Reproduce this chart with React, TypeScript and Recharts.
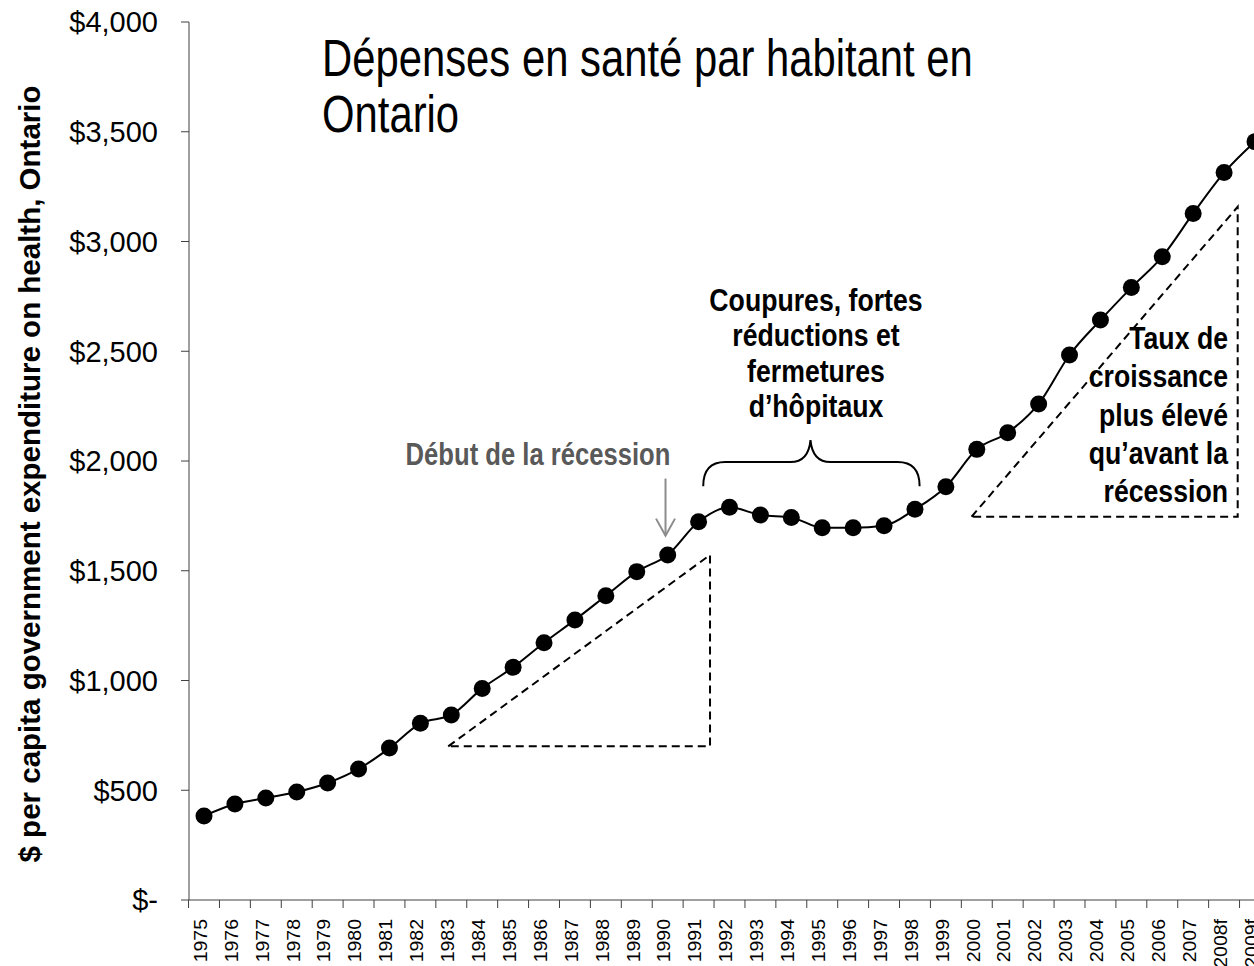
import { LineChart, Line, XAxis, YAxis } from 'recharts'

const years = [
  '1975', '1976', '1977', '1978', '1979', '1980', '1981', '1982', '1983', '1984',
  '1985', '1986', '1987', '1988', '1989', '1990', '1991', '1992', '1993', '1994',
  '1995', '1996', '1997', '1998', '1999', '2000', '2001', '2002', '2003', '2004',
  '2005', '2006', '2007', '2008f', '2009f',
]

const spending = [
  383, 437, 465, 492, 533, 597, 692, 805, 843, 964,
  1060, 1172, 1276, 1386, 1496, 1572, 1723, 1789, 1754, 1743,
  1696, 1696, 1705, 1780, 1883, 2053, 2129, 2260, 2483, 2642,
  2790, 2931, 3128, 3314, 3455,
]

const yTicks = [0, 500, 1000, 1500, 2000, 2500, 3000, 3500, 4000]

const titleLines = ['Dépenses en santé par habitant en', 'Ontario']
const recessionLines = ['Début de la récession']
const cutsLines = ['Coupures, fortes', 'réductions et', 'fermetures', 'd’hôpitaux']
const growthLines = ['Taux de', 'croissance', 'plus élevé', 'qu’avant la', 'récession']

const data = years.map((year, i) => ({ year, value: spending[i] }))

// chart geometry (the overlay uses the same numbers as the chart)
const W = 1290
const H = 966
const MARGIN = { top: 22, right: 20, bottom: 0, left: 0 }
const Y_AXIS_W = 189
const X_AXIS_H = 66
const X_PAD = 15
const Y_MAX = 4000
const PLOT_LEFT = MARGIN.left + Y_AXIS_W
const PLOT_W = W - MARGIN.left - MARGIN.right - Y_AXIS_W
const PLOT_H = H - MARGIN.top - MARGIN.bottom - X_AXIS_H
const BAND = (PLOT_W - 2 * X_PAD) / (years.length - 1)

const xAt = (i: number) => PLOT_LEFT + X_PAD + i * BAND
const yAt = (v: number) => MARGIN.top + PLOT_H * (1 - v / Y_MAX)

const AXIS = '#404040'
const SANS = "'Liberation Sans', Arial, sans-serif"
// no narrow face installed, so squeeze Liberation Sans horizontally
const NARROW_SCALE = 0.82

const money = (v: number) => (v === 0 ? '$-' : '$' + v.toLocaleString('en-US'))

function YearTick(props: any) {
  const { x, y, payload, index } = props
  const half = BAND / 2
  return (
    <g>
      <line x1={x - half} x2={x - half} y1={y} y2={y + 8} stroke={AXIS} strokeWidth={1} />
      {index === years.length - 1 && (
        <line x1={x + half} x2={x + half} y1={y} y2={y + 8} stroke={AXIS} strokeWidth={1} />
      )}
      <text
        transform={`translate(${x},${y + 19}) rotate(-90) scale(1, 0.92)`}
        y={3}
        textAnchor="end"
        fontSize={19.5}
        fontFamily={SANS}
        fill="#000"
      >
        {payload.value}
      </text>
    </g>
  )
}

interface NarrowTextProps {
  x: number
  y: number
  lines: string[]
  lineHeight: number
  size: number
  anchor: 'start' | 'middle' | 'end'
  bold?: boolean
  color?: string
  squeeze?: number
}

function NarrowText({ x, y, lines, lineHeight, size, anchor, bold, color = '#000', squeeze = NARROW_SCALE }: NarrowTextProps) {
  return (
    <text
      transform={`translate(${x},${y}) scale(${squeeze},1)`}
      fontFamily={SANS}
      fontWeight={bold ? 'bold' : 'normal'}
      fontSize={size}
      fill={color}
      textAnchor={anchor}
    >
      {lines.map((line, i) => (
        <tspan key={line} x={0} y={i * lineHeight}>{line}</tspan>
      ))}
    </text>
  )
}

function Annotations() {
  // dashed triangles: pre-recession trend and post-cuts trend
  const t1 = { x1: xAt(7.9), x2: xAt(16.37), lo: yAt(700), hi: yAt(1572) }
  const t2 = { x1: xAt(24.83), x2: xAt(33.44), lo: yAt(1746), hi: yAt(3158) }
  const brace = { x1: xAt(16.15), x2: xAt(23.15), xm: xAt(19.62), base: yAt(1885), bar: yAt(1995), tip: yAt(2095) }
  const arrowX = xAt(14.93)
  const arrowTop = yAt(1920)
  const arrowEnd = yAt(1660)

  return (
    <svg
      width={1254}
      height={966}
      style={{ position: 'absolute', left: 0, top: 0, pointerEvents: 'none' }}
    >
      <g stroke="#000" strokeWidth={2} strokeDasharray="8 5" fill="none">
        <path d={`M${t1.x1},${t1.lo} L${t1.x2},${t1.hi} L${t1.x2},${t1.lo} Z`} />
        <path d={`M${t2.x1},${t2.lo} L${t2.x2},${t2.hi} L${t2.x2},${t2.lo} Z`} />
      </g>

      <path
        d={`M${brace.x1},${brace.base} Q${brace.x1},${brace.bar} ${brace.x1 + 22},${brace.bar}
            L${brace.xm - 20},${brace.bar} Q${brace.xm - 2},${brace.bar} ${brace.xm},${brace.tip}
            Q${brace.xm + 2},${brace.bar} ${brace.xm + 20},${brace.bar}
            L${brace.x2 - 22},${brace.bar} Q${brace.x2},${brace.bar} ${brace.x2},${brace.base}`}
        stroke="#000"
        strokeWidth={2}
        fill="none"
      />

      <g stroke="#8c8c8c" strokeWidth={2} fill="none">
        <line x1={arrowX} x2={arrowX} y1={arrowTop} y2={arrowEnd} />
        <path d={`M${arrowX - 9.5},${arrowEnd - 17} L${arrowX},${arrowEnd} L${arrowX + 9.5},${arrowEnd - 17}`} />
      </g>

      <NarrowText x={322} y={76} lines={titleLines} lineHeight={56} size={51} anchor="start" />
      <NarrowText x={538} y={465} lines={recessionLines} lineHeight={36} size={30.5} anchor="middle" bold color="#595959" squeeze={0.84} />
      <NarrowText x={816} y={311} lines={cutsLines} lineHeight={35.5} size={31} anchor="middle" bold squeeze={0.86} />
      <NarrowText x={1228} y={349} lines={growthLines} lineHeight={38.3} size={31} anchor="end" bold squeeze={0.86} />

      <text
        transform="translate(29,474) rotate(-90)"
        textAnchor="middle"
        dominantBaseline="central"
        fontFamily={SANS}
        fontWeight="bold"
        fontSize={29.5}
        fill="#000"
      >
        $ per capita government expenditure on health, Ontario
      </text>
    </svg>
  )
}

export default function App() {
  return (
    <div
      style={{
        position: 'absolute',
        left: 0,
        top: 0,
        width: 1254,
        height: 966,
        overflow: 'hidden',
        background: '#fff',
      }}
    >
      <LineChart width={W} height={H} data={data} margin={MARGIN}>
        <XAxis
          dataKey="year"
          interval={0}
          height={X_AXIS_H}
          padding={{ left: X_PAD, right: X_PAD }}
          axisLine={{ stroke: AXIS, strokeWidth: 1 }}
          tickLine={false}
          tickSize={0}
          tickMargin={0}
          tick={<YearTick />}
        />
        <YAxis
          width={Y_AXIS_W}
          domain={[0, Y_MAX]}
          ticks={yTicks}
          interval={0}
          tickFormatter={money}
          axisLine={{ stroke: AXIS, strokeWidth: 1 }}
          tickLine={{ stroke: AXIS, strokeWidth: 1 }}
          tickSize={8}
          tickMargin={23}
          tick={{ fill: '#000', fontSize: 29, fontFamily: SANS }}
        />
        <Line
          type="monotone"
          dataKey="value"
          stroke="#000"
          strokeWidth={2}
          dot={{ r: 8.5, fill: '#000', stroke: '#000', strokeWidth: 0 }}
          activeDot={false}
          isAnimationActive={false}
        />
      </LineChart>
      <Annotations />
    </div>
  )
}
